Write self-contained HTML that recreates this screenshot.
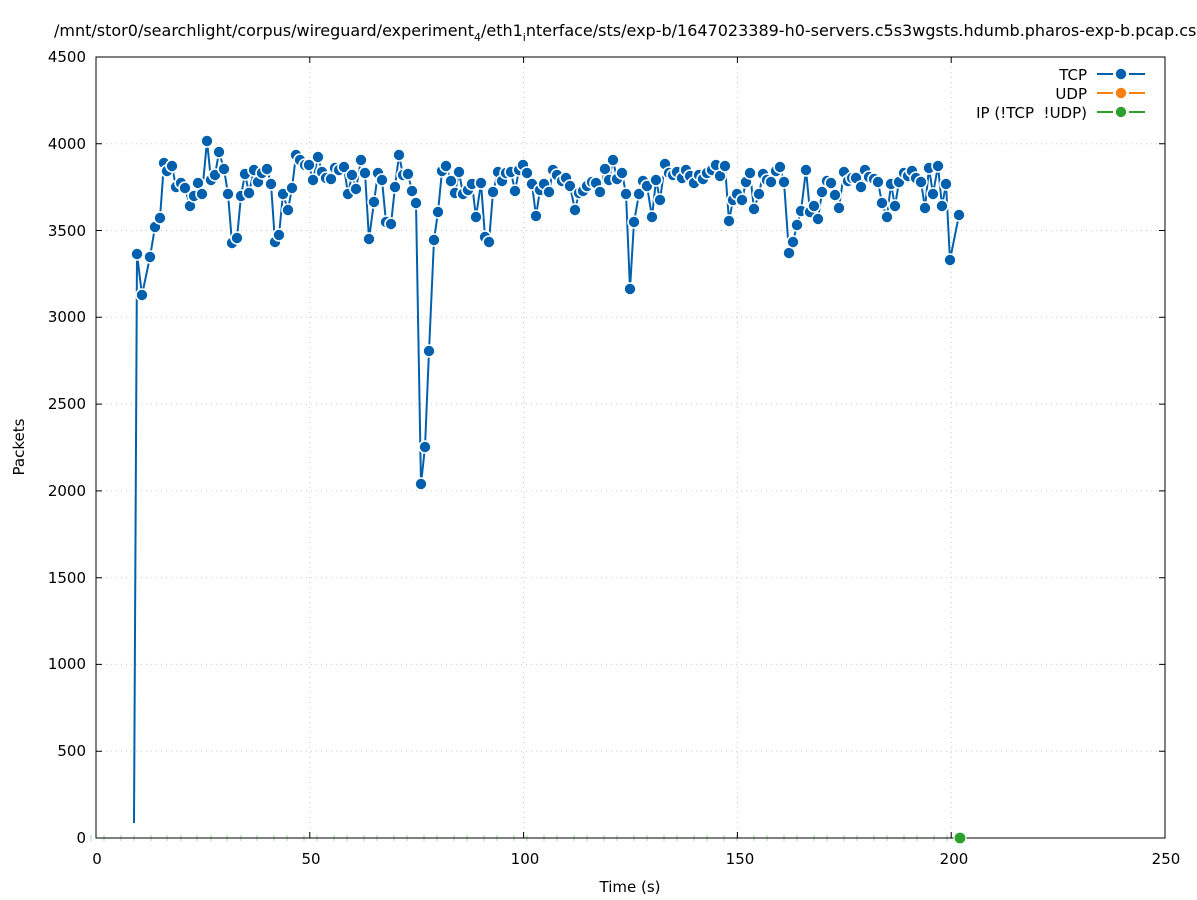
<!DOCTYPE html>
<html><head><meta charset="utf-8">
<style>
html,body{margin:0;padding:0;background:#fff;}
svg{display:block;font-family:"DejaVu Sans","Liberation Sans",sans-serif;}
</style></head>
<body>
<svg width="1197" height="900" viewBox="0 0 1197 900" xmlns="http://www.w3.org/2000/svg">
<defs>
<marker id="m" markerUnits="userSpaceOnUse" markerWidth="16" markerHeight="16" refX="8" refY="8" viewBox="0 0 16 16" overflow="visible">
<circle cx="8" cy="8" r="6" fill="#0060ad" stroke="#fff" stroke-width="1.6"/>
</marker>
</defs>
<rect width="1197" height="900" fill="#fff"/>
<text x="54" y="36" font-size="16" fill="#000">/mnt/stor0/searchlight/corpus/wireguard/experiment<tspan font-size="11" dy="5">4</tspan><tspan dy="-5">/eth1</tspan><tspan font-size="11" dy="5">i</tspan><tspan dy="-5">nterface/sts/exp-b/1647023389-h0-servers.c5s3wgsts.hdumb.pharos-exp-b.pcap.csv</tspan></text>
<g stroke="#c8c8c8" stroke-width="1" stroke-dasharray="1,4">
<line x1="96" x2="1165" y1="751.2" y2="751.2"/>
<line x1="96" x2="1165" y1="664.4" y2="664.4"/>
<line x1="96" x2="1165" y1="577.7" y2="577.7"/>
<line x1="96" x2="1165" y1="490.9" y2="490.9"/>
<line x1="96" x2="1165" y1="404.1" y2="404.1"/>
<line x1="96" x2="1165" y1="317.3" y2="317.3"/>
<line x1="96" x2="1165" y1="230.5" y2="230.5"/>
<line x1="96" x2="1165" y1="143.8" y2="143.8"/>
<line x1="96" x2="1165" y1="57" y2="57"/>
<line x1="309.8" x2="309.8" y1="57" y2="838"/>
<line x1="523.6" x2="523.6" y1="57" y2="838"/>
<line x1="737.4" x2="737.4" y1="57" y2="838"/>
<line x1="951.2" x2="951.2" y1="57" y2="838"/>
</g>
<g stroke="#9fd89f" stroke-width="1">
<path d="M91 835v6M104 835v6M121 835v6M134 835v6M151 835v6M167 835v6M181 835v6M197 835v6M211 835v6M227 835v6M241 835v6M257 835v6M274 835v6M287 835v6M304 835v6M317 835v6M334 835v6M347 835v6M364 835v6M377 835v6M394 835v6M407 835v6M424 835v6M437 835v6M454 835v6M467 835v6M484 835v6M497 835v6M514 835v6M527 835v6M544 835v6M557 835v6M574 835v6M587 835v6M604 835v6M617 835v6M634 835v6M647 835v6M664 835v6M677 835v6M694 835v6M707 835v6M724 835v6M737 835v6M754 835v6M767 835v6M784 835v6M797 835v6M814 835v6M827 835v6M844 835v6M857 835v6M874 835v6M887 835v6M904 835v6M917 835v6M934 835v6M947 835v6"/>
</g>
<rect x="96" y="57" width="1069" height="781" fill="none" stroke="#000" stroke-width="1"/>
<g stroke="#000" stroke-width="1">
<path d="M96 751.2h6M96 664.4h6M96 577.7h6M96 490.9h6M96 404.1h6M96 317.3h6M96 230.5h6M96 143.8h6"/>
<path d="M1165 751.2h-6M1165 664.4h-6M1165 577.7h-6M1165 490.9h-6M1165 404.1h-6M1165 317.3h-6M1165 230.5h-6M1165 143.8h-6"/>
<path d="M309.8 838v-6M523.6 838v-6M737.4 838v-6M951.2 838v-6M309.8 57v6M523.6 57v6M737.4 57v6M951.2 57v6"/>
</g>
<g font-size="15" fill="#000" text-anchor="end">
<text x="86" y="843">0</text>
<text x="86" y="756">500</text>
<text x="86" y="669">1000</text>
<text x="86" y="583">1500</text>
<text x="86" y="496">2000</text>
<text x="86" y="409">2500</text>
<text x="86" y="322">3000</text>
<text x="86" y="236">3500</text>
<text x="86" y="149">4000</text>
<text x="86" y="62">4500</text>
</g>
<g font-size="15" fill="#000" text-anchor="middle">
<text x="97" y="864">0</text>
<text x="311" y="864">50</text>
<text x="525" y="864">100</text>
<text x="740" y="864">150</text>
<text x="954" y="864">200</text>
<text x="1166" y="864">250</text>
<text x="630" y="892">Time (s)</text>
<text transform="translate(24,447) rotate(-90)">Packets</text>
</g>
<polyline fill="none" stroke="#0060ad" stroke-width="2" marker-mid="url(#m)" marker-end="url(#m)" points="134,823 137,254 142,295 150,257 155,227 160,218 164,163 167,171 172,166 176,187 181,183 185,188 190,206 194,196 198,183 202,194 207,141 211,180 215,175 219,152 224,169 228,194 232,243 237,238 241,196 245,174 249,193 254,170 258,182 262,173 267,169 271,184 275,242 279,235 283,194 288,210 292,188 296,155 300,160 305,165 309,165 313,180 318,157 322,172 326,178 331,179 335,168 339,170 344,167 348,194 352,175 356,189 361,160 365,173 369,239 374,202 378,173 382,180 386,222 391,224 395,187 399,155 403,175 408,174 412,191 416,203 421,484 425,447 429,351 434,240 438,212 442,171 446,166 451,181 455,193 459,172 463,194 468,190 472,184 476,217 481,183 485,237 489,242 493,192 498,172 502,181 506,173 511,172 515,191 519,170 523,165 527,173 532,184 536,216 540,190 544,184 549,192 553,170 557,175 562,181 566,178 570,186 575,210 579,193 583,191 587,186 592,182 596,183 600,192 605,169 609,180 613,160 617,179 622,173 626,194 630,289 634,222 639,194 643,181 647,186 652,217 656,180 660,200 665,164 669,173 673,175 677,172 682,178 686,170 690,176 694,183 699,175 703,179 707,173 712,170 716,165 720,176 725,166 729,221 733,200 737,194 742,200 746,182 750,173 754,209 759,194 763,174 767,180 771,182 776,171 780,167 784,182 789,253 793,242 797,225 801,211 806,170 810,212 814,206 818,219 822,192 827,181 831,183 835,195 839,208 844,172 848,181 852,178 856,178 861,187 865,170 869,177 874,179 878,182 882,203 887,217 891,184 895,206 899,182 904,173 908,176 912,171 916,178 921,182 925,208 929,168 933,194 938,166 942,206 946,184 950,260 959,215"/>
<circle cx="960" cy="838" r="6" fill="#2ca02c" stroke="#fff" stroke-width="1.2"/>
<g font-size="15" fill="#000" text-anchor="end">
<text x="1087" y="80">TCP</text>
<text x="1087" y="99">UDP</text>
<text x="1087" y="118">IP (!TCP&#160; !UDP)</text>
</g>
<g stroke-width="2">
<path d="M1097 74h16M1129 74h16" stroke="#0060ad"/>
<path d="M1097 93h16M1129 93h16" stroke="#ff7f0e"/>
<path d="M1097 112h16M1129 112h16" stroke="#2ca02c"/>
</g>
<circle cx="1121" cy="74" r="6" fill="#0060ad" stroke="#fff" stroke-width="1.6"/>
<circle cx="1121" cy="93" r="6" fill="#ff7f0e" stroke="#fff" stroke-width="1.6"/>
<circle cx="1121" cy="112" r="6" fill="#2ca02c" stroke="#fff" stroke-width="1.6"/>
</svg>
</body></html>
